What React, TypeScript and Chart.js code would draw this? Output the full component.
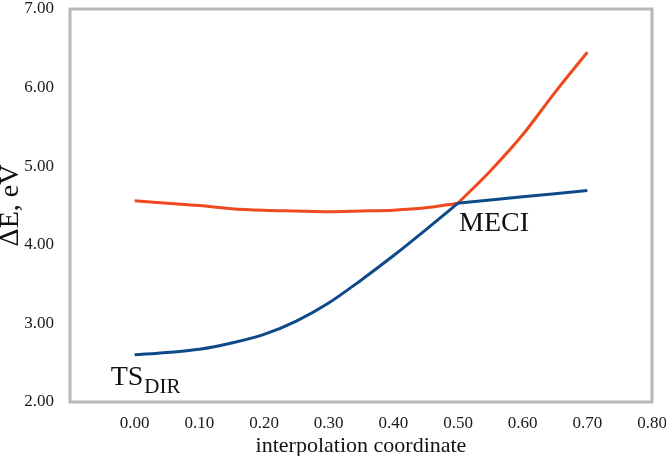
import React, { useEffect, useRef } from "react";
import { Chart, registerables } from "chart.js";

Chart.register(...registerables);

// interpolation coordinate
const coords = [0, 0.05, 0.1, 0.15, 0.2, 0.25, 0.3, 0.35, 0.4, 0.45, 0.5, 0.55, 0.6, 0.65, 0.7];
// upper state (red), eV
const upperState = [4.56, 4.53, 4.5, 4.46, 4.44, 4.43, 4.42, 4.43, 4.44, 4.47, 4.53, 4.94, 5.4, 5.94, 6.45];
// lower state (blue), eV
const lowerState = [2.6, 2.63, 2.67, 2.75, 2.86, 3.03, 3.26, 3.55, 3.86, 4.19, 4.53, 4.57, 4.61, 4.65, 4.69];
// the crossing point (MECI) splits each curve into two smooth branches
const meciCoord = 0.5;

const xMin = -0.1;
const xMax = 0.8;
const yMin = 2;
const yMax = 7;

const tsLabel = { x: 0, y: 2.6, main: "TS", sub: "DIR" };
const meciLabel = { x: 0.5, y: 4.53, text: "MECI" };

const FONT = "'Liberation Serif', 'Times New Roman', serif";
const RED = "#f0481f";
const BLUE = "#0f4a88";

const framePlugin = {
  id: "frameAndLabels",
  beforeDatasetsDraw(chart: any) {
    const { ctx, chartArea: a } = chart;
    ctx.save();
    ctx.strokeStyle = "#b8b8b8";
    ctx.lineWidth = 3;
    ctx.strokeRect(a.left, a.top, a.right - a.left, a.bottom - a.top);
    ctx.restore();
  },
  afterDatasetsDraw(chart: any) {
    const { ctx, scales } = chart;
    const xs = scales.x;
    const ys = scales.y;
    ctx.save();
    ctx.fillStyle = "#111";
    ctx.textBaseline = "alphabetic";
    ctx.textAlign = "left";
    // TS_DIR
    const tx = xs.getPixelForValue(tsLabel.x) - 24;
    const ty = ys.getPixelForValue(tsLabel.y) + 30;
    ctx.font = `28px ${FONT}`;
    ctx.fillText(tsLabel.main, tx, ty);
    const w = ctx.measureText(tsLabel.main).width;
    ctx.font = `21px ${FONT}`;
    ctx.fillText(tsLabel.sub, tx + w + 1, ty + 8);
    // MECI
    const mx = xs.getPixelForValue(meciLabel.x) + 1;
    const my = ys.getPixelForValue(meciLabel.y) + 28;
    ctx.font = `28px ${FONT}`;
    ctx.fillText(meciLabel.text, mx, my);
    ctx.restore();
  },
};

function branch(values: number[], left: boolean) {
  const pts = coords.map((x, i) => ({ x, y: values[i] }));
  return left ? pts.filter((p) => p.x <= meciCoord) : pts.filter((p) => p.x >= meciCoord);
}

function ds(label: string, data: any[], color: string) {
  return {
    label,
    data,
    borderColor: color,
    borderWidth: 3,
    pointRadius: 0,
    cubicInterpolationMode: "monotone",
    fill: false,
  };
}

export default function App() {
  const ref = useRef<HTMLCanvasElement | null>(null);

  useEffect(() => {
    if (!ref.current) return;
    const chart = new Chart(ref.current, {
      type: "line",
      data: {
        datasets: [
          ds("lower-a", branch(lowerState, true), BLUE),
          ds("lower-b", branch(lowerState, false), BLUE),
          ds("upper-a", branch(upperState, true), RED),
          ds("upper-b", branch(upperState, false), RED),
        ],
      },
      options: {
        responsive: false,
        animation: false,
        layout: { padding: 0 },
        plugins: { legend: { display: false }, tooltip: { enabled: false } },
        scales: {
          x: {
            type: "linear",
            min: xMin,
            max: xMax,
            grid: { display: false },
            border: { display: false },
            afterFit: (s: any) => {
              s.height = 54;
              s.paddingRight = 14;
              s.paddingLeft = 0;
            },
            ticks: {
              stepSize: 0.1,
              padding: 3,
              color: "#1a1a1a",
              font: { family: FONT, size: 17 },
              maxRotation: 0,
              autoSkip: false,
              callback: (v: any) => (Number(v) < -0.05 ? "" : Number(v).toFixed(2)),
            },
            title: {
              display: true,
              text: "interpolation coordinate",
              color: "#111",
              font: { family: FONT, size: 22, lineHeight: 0.85 },
              padding: 0,
            },
          },
          y: {
            min: yMin,
            max: yMax,
            grid: { display: false },
            border: { display: false },
            afterFit: (s: any) => {
              s.width = 70;
              s.paddingTop = 9;
              s.paddingBottom = 0;
            },
            ticks: {
              stepSize: 1,
              padding: 8,
              color: "#1a1a1a",
              font: { family: FONT, size: 17 },
              callback: (v: any) => Number(v).toFixed(2),
            },
            title: {
              display: true,
              text: "ΔE, eV",
              color: "#111",
              font: { family: FONT, size: 28, lineHeight: 0.75 },
              padding: 0,
            },
          },
        },
      },
      plugins: [framePlugin],
    } as any);
    return () => chart.destroy();
  }, []);

  return (
    <div style={{ position: "absolute", left: 0, top: 0, width: 666, height: 456, background: "#fff" }}>
      <canvas ref={ref} width={666} height={456} />
    </div>
  );
}
